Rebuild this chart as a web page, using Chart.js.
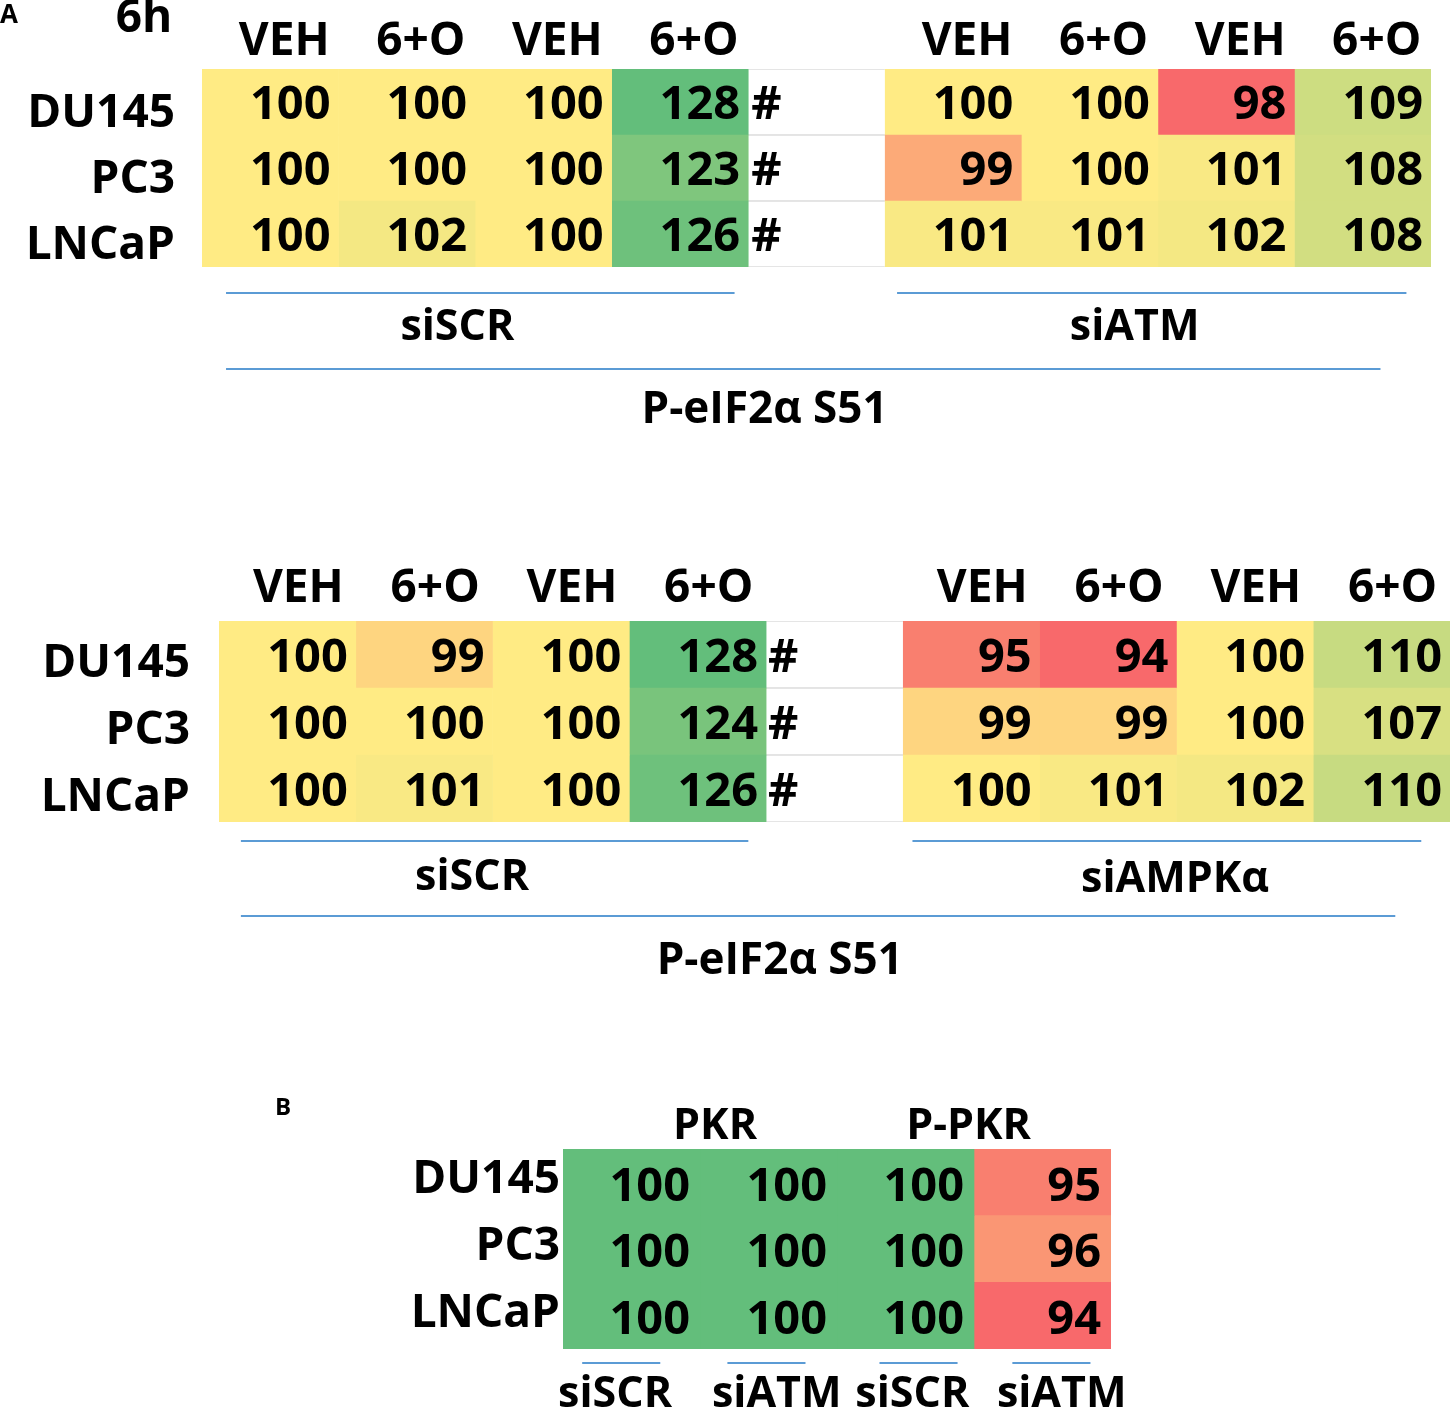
<!DOCTYPE html>
<html>
<head>
<meta charset="utf-8">
<script src="https://cdn.jsdelivr.net/npm/chart.js@4.4.0/dist/chart.umd.min.js"></script>
<style>
  body { margin: 0; background: #fff; width: 1451px; height: 1410px; position: relative; overflow: hidden; }
  canvas { position: absolute; left: 0; }
</style>
</head>
<body>
<canvas id="atmChart" width="1451" height="460" style="top:0px"></canvas>
<canvas id="ampkChart" width="1451" height="470" style="top:540px"></canvas>
<canvas id="pkrChart" width="1451" height="330" style="top:1080px"></canvas>
<script>
// DATA (rows = cell lines, columns = treatments)
const rowLabels = ['DU145', 'PC3', 'LNCaP'];
const treatLabels = ['VEH', '6+O', 'VEH', '6+O'];
const eifTitle = 'P-eIF2\u03b1 S51';

// panel A, top: siSCR vs siATM
const atmScr = [[100, 100, 100, 128], [100, 100, 100, 123], [100, 102, 100, 126]];
const atmKd = [[100, 100, 98, 109], [99, 100, 101, 108], [101, 101, 102, 108]];
const atmMarks = ['#', '#', '#'];
const atmGroups = ['siSCR', 'siATM'];

// panel A, bottom: siSCR vs siAMPKa
const ampkScr = [[100, 99, 100, 128], [100, 100, 100, 124], [100, 101, 100, 126]];
const ampkKd = [[95, 94, 100, 110], [99, 99, 100, 107], [100, 101, 102, 110]];
const ampkMarks = ['#', '#', '#'];
const ampkGroups = ['siSCR', 'siAMPK\u03b1'];

// panel B: PKR / P-PKR
const pkrHeaders = ['PKR', 'P-PKR'];
const pkrGroups = ['siSCR', 'siATM', 'siSCR', 'siATM'];
const pkrVals = [[100, 100, 100, 95], [100, 100, 100, 96], [100, 100, 100, 94]];

const FONT = '"Open Sans", "DejaVu Sans", sans-serif';
Chart.defaults.font.family = FONT;
Chart.defaults.font.weight = 'bold';
Chart.defaults.color = '#000';

// excel style red - yellow - green colour scale
const RED = [248, 105, 107], YELLOW = [255, 235, 132], GREEN = [99, 190, 123];
function heatColor(v, range) {
  const lo = range[0], mid = range[1], hi = range[2];
  let a, b, t;
  if (v <= mid) { a = RED; b = YELLOW; t = (v - lo) / (mid - lo); }
  else { a = YELLOW; b = GREEN; t = (v - mid) / (hi - mid); }
  t = Math.max(0, Math.min(1, t));
  const c = a.map((ch, i) => Math.round(ch + (b[i] - ch) * t));
  return 'rgb(' + c[0] + ',' + c[1] + ',' + c[2] + ')';
}

// one dataset per column, each cell is one unit wide
function blockDatasets(block, range) {
  return block[0].map((_, ci) => {
    const values = block.map(row => row[ci]);
    return {
      data: values.map(() => 1),
      values: values,
      backgroundColor: values.map(v => heatColor(v, range)),
      borderWidth: 0
    };
  });
}

function gapDataset(marks) {
  return {
    data: marks.map(() => 1),
    marks: marks,
    backgroundColor: '#ffffff',
    borderColor: '#dcdcdc',
    borderWidth: { top: 1, bottom: 1, left: 0, right: 0 },
    borderSkipped: false
  };
}

// numbers inside the cells
const cellText = {
  id: 'cellText',
  afterDatasetsDraw(chart, args, opts) {
    const { ctx, scales: { x, y } } = chart;
    ctx.save();
    ctx.fillStyle = '#000';
    ctx.textBaseline = 'middle';
    ctx.font = 'bold ' + opts.size + 'px ' + FONT;
    chart.data.datasets.forEach((ds, ci) => {
      const list = ds.values || ds.marks;
      if (!list) return;
      list.forEach((v, ri) => {
        const yy = y.getPixelForValue(ri) + opts.dy;
        if (ds.marks) {
          ctx.textAlign = 'left';
          ctx.fillText(v, x.getPixelForValue(ci) + opts.markPad, yy);
        } else {
          ctx.textAlign = 'right';
          ctx.fillText(String(v), x.getPixelForValue(ci + 1) - opts.pad, yy);
        }
      });
    });
    ctx.restore();
  }
};

// group lines, group labels and titles below the table
const notes = {
  id: 'notes',
  afterDraw(chart, args, opts) {
    const { ctx, chartArea, scales: { x } } = chart;
    ctx.save();
    ctx.strokeStyle = '#5b9bd5';
    ctx.lineWidth = 2;
    (opts.lines || []).forEach(l => {
      const yy = chartArea.bottom + l.dy;
      ctx.beginPath();
      ctx.moveTo(x.getPixelForValue(l.from), yy);
      ctx.lineTo(x.getPixelForValue(l.to), yy);
      ctx.stroke();
    });
    ctx.fillStyle = '#000';
    ctx.textBaseline = 'middle';
    ctx.textAlign = 'center';
    (opts.labels || []).forEach(t => {
      ctx.font = 'bold ' + t.size + 'px ' + FONT;
      ctx.fillText(t.text, x.getPixelForValue(t.at), chartArea.bottom + t.dy);
    });
    (opts.free || []).forEach(t => {
      ctx.font = 'bold ' + t.size + 'px ' + FONT;
      ctx.textAlign = t.align;
      ctx.fillText(t.text, t.x, t.y);
    });
    ctx.restore();
  }
};

function makeHeatmap(id, cfg) {
  return new Chart(document.getElementById(id), {
    type: 'bar',
    data: { labels: rowLabels, datasets: cfg.datasets },
    options: {
      indexAxis: 'y',
      responsive: false,
      animation: false,
      devicePixelRatio: 1,
      layout: { padding: cfg.padding },
      datasets: { bar: { barPercentage: 1, categoryPercentage: 1 } },
      plugins: {
        legend: { display: false },
        tooltip: { enabled: false },
        cellText: cfg.cellText,
        notes: cfg.notes
      },
      scales: {
        x: {
          type: 'linear',
          position: 'top',
          stacked: true,
          min: 0,
          max: cfg.columns,
          grid: { display: false, drawTicks: false },
          border: { display: false },
          afterBuildTicks: s => { s.ticks = cfg.headers.map(h => ({ value: h.at })); },
          afterFit: s => { s.height = cfg.headerHeight; },
          ticks: {
            autoSkip: false,
            maxRotation: 0,
            minRotation: 0,
            padding: cfg.headerPad,
            labelOffset: cfg.headerOffset,
            font: { size: cfg.headerSize, weight: 'bold' },
            callback: (v, i) => cfg.headers[i] ? cfg.headers[i].text : ''
          }
        },
        y: {
          stacked: true,
          grid: { display: false, drawTicks: false },
          border: { display: false },
          afterFit: s => { s.width = cfg.rowWidth; },
          ticks: {
            padding: cfg.rowPad,
            labelOffset: cfg.rowOffset,
            font: { size: cfg.rowSize, weight: 'bold' }
          }
        }
      }
    },
    plugins: [cellText, notes]
  });
}

function panelHeaders() {
  const list = [];
  treatLabels.forEach((t, i) => list.push({ text: t, at: i + 0.5 }));
  treatLabels.forEach((t, i) => list.push({ text: t, at: i + 5.5 }));
  return list;
}

// panel A top
makeHeatmap('atmChart', {
  datasets: blockDatasets(atmScr, [98, 100, 128])
    .concat([gapDataset(atmMarks)])
    .concat(blockDatasets(atmKd, [98, 100, 128])),
  columns: 9,
  padding: { top: 0, left: 0, right: 20, bottom: 193 },
  headers: panelHeaders(),
  headerHeight: 69, headerPad: 0, headerOffset: 14, headerSize: 46,
  rowWidth: 202, rowPad: 27, rowOffset: 12, rowSize: 46,
  cellText: { size: 47, dy: 4, pad: 8, markPad: 3 },
  notes: {
    lines: [
      { from: 0.176, to: 3.9, dy: 26 },
      { from: 5.09, to: 8.82, dy: 26 },
      { from: 0.176, to: 8.63, dy: 102 }
    ],
    labels: [
      { text: atmGroups[0], at: 1.87, dy: 61, size: 43 },
      { text: atmGroups[1], at: 6.83, dy: 61, size: 43 },
      { text: eifTitle, at: 4.12, dy: 143, size: 44 }
    ],
    free: [
      { text: 'A', x: 0, y: 16, size: 26, align: 'left' },
      { text: '6h', x: 144, y: 19, size: 46, align: 'center' }
    ]
  }
});

// panel A bottom
makeHeatmap('ampkChart', {
  datasets: blockDatasets(ampkScr, [94, 100, 128])
    .concat([gapDataset(ampkMarks)])
    .concat(blockDatasets(ampkKd, [94, 100, 128])),
  columns: 9,
  padding: { top: 0, left: 0, right: 1, bottom: 188 },
  headers: panelHeaders(),
  headerHeight: 81, headerPad: 5, headerOffset: 11, headerSize: 46,
  rowWidth: 219, rowPad: 29, rowOffset: 9, rowSize: 46,
  cellText: { size: 47, dy: 4, pad: 8, markPad: 2 },
  notes: {
    lines: [
      { from: 0.16, to: 3.87, dy: 19 },
      { from: 5.07, to: 8.79, dy: 19 },
      { from: 0.16, to: 8.6, dy: 94 }
    ],
    labels: [
      { text: ampkGroups[0], at: 1.85, dy: 56, size: 43 },
      { text: ampkGroups[1], at: 6.99, dy: 58, size: 43 },
      { text: eifTitle, at: 4.1, dy: 139, size: 44 }
    ]
  }
});

// panel B
makeHeatmap('pkrChart', {
  datasets: blockDatasets(pkrVals, [94, 99.8, 100]),
  columns: 4,
  padding: { top: 0, left: 0, right: 340, bottom: 61 },
  headers: pkrHeaders.map((t, i) => ({ text: t, at: i === 0 ? 1.11 : 2.96 })),
  headerHeight: 69, headerPad: -4, headerOffset: 0, headerSize: 43,
  rowWidth: 563, rowPad: 3, rowOffset: -2, rowSize: 46,
  cellText: { size: 47, dy: 5, pad: 10, markPad: 2 },
  notes: {
    lines: [
      { from: 0.14, to: 0.71, dy: 14 },
      { from: 1.2, to: 1.77, dy: 14 },
      { from: 2.31, to: 2.88, dy: 14 },
      { from: 3.28, to: 3.85, dy: 14 }
    ],
    labels: [
      { text: pkrGroups[0], at: 0.38, dy: 46, size: 43 },
      { text: pkrGroups[1], at: 1.56, dy: 46, size: 43 },
      { text: pkrGroups[2], at: 2.55, dy: 46, size: 43 },
      { text: pkrGroups[3], at: 3.64, dy: 46, size: 43 }
    ],
    free: [
      { text: 'B', x: 275, y: 28, size: 24, align: 'left' }
    ]
  }
});
</script>
</body>
</html>
